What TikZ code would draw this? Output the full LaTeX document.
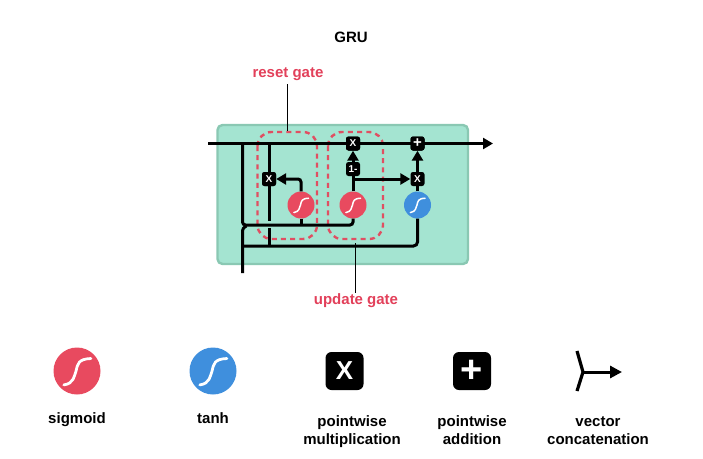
\documentclass[tikz,border=0pt]{standalone}
\usepackage{fontspec}
\setmainfont{Liberation Sans}
\usetikzlibrary{arrows.meta,calc}
\definecolor{tealbg}{HTML}{A4E4D1}
\definecolor{tealedge}{HTML}{8AC8B3}
\definecolor{redc}{HTML}{E84A5F}
\definecolor{redt}{HTML}{E2405A}
\definecolor{dashc}{HTML}{E04F62}
\definecolor{bluec}{HTML}{3F8FDD}
\newcommand{\scurve}[2]{\draw[white,line cap=round,line width=#2*0.115pt]
  ($(#1)+(-.55*#2,.58*#2)$) .. controls ($(#1)+(-.12*#2,.52*#2)$) and ($(#1)+(-.12*#2,.2*#2)$) .. ($(#1)+(-.04*#2,0)$)
  .. controls ($(#1)+(.03*#2,-.3*#2)$) and ($(#1)+(.05*#2,-.5*#2)$) .. ($(#1)+(.58*#2,-.52*#2)$);}
\tikzset{
  x=1pt,y=-1pt,
  wire/.style={line width=3pt,black},
  arrowwire/.style={wire,-{Triangle[length=10pt,width=11pt]}},
  callout/.style={line width=1.3pt,black},
  gatebox/.style={draw=dashc,line width=2.4pt,dash pattern=on 5pt off 4.2pt,rounded corners=14pt},
  opbox/.style={fill=black,rounded corners=2.5pt,text=white,minimum size=14pt,inner sep=0pt,font=\bfseries\fontsize{10}{10}\selectfont},
  bigbox/.style={fill=black,rounded corners=6pt,text=white,minimum size=38pt,inner sep=0pt,font=\bfseries\fontsize{26}{26}\selectfont},
  smallc/.style={circle,minimum size=27pt,inner sep=0pt},
  bigc/.style={circle,minimum size=47pt,inner sep=0pt},
  lbl/.style={font=\bfseries\fontsize{15}{18}\selectfont,align=center,text=black,inner sep=0pt},
  redlbl/.style={lbl,text=redt},
}
\begin{document}
\begin{tikzpicture}
\useasboundingbox (0,0) rectangle (703,458);
\node[lbl] (title) at (351,37.5) {GRU};
\node[redlbl] (resetl) at (288,74.5) {reset gate};
\node[redlbl] (updatel) at (356,300.5) {update gate};

\draw[fill=tealbg,draw=tealedge,line width=2.4pt,rounded corners=5pt] (217.5,125) rectangle (468,264);

\coordinate (resetTop) at (287.5,131);
\coordinate (updateBot) at (355.7,243);
\draw[gatebox] (257.5,132) rectangle (317,239);
\draw[gatebox] (328,132) rectangle (383,239);
\draw[callout] (resetl.south -| resetTop) ++(0,3) -- (resetTop);
\draw[callout] (updateBot) -- (updatel.north -| updateBot) ++(0,-2);

% operation nodes
\node[smallc,fill=redc] (s1) at (301,205) {};
\node[smallc,fill=redc] (s2) at (353,205) {};
\node[smallc,fill=bluec] (t1) at (417.5,205) {};
\node[opbox] (x1) at (269,179) {X};
\node[opbox] (x2) at (353,143.5) {X};
\node[opbox] (om) at (353,169) {1-};
\node[opbox] (x3) at (417.5,179) {X};
\node[opbox] (p1) at (417.5,143.5) {};

% free ends
\coordinate (inH) at (208,143.5);
\coordinate (outH) at (493,143.5);
\coordinate (inX) at (242.5,273);
\coordinate (j1) at (242.5,143.5);
\coordinate (j2) at (269,143.5);
\coordinate (bus1) at (242.5,225);
\coordinate (bus2) at (243,246);
\coordinate (xin) at (269,221);
\coordinate (xin2) at (269,228);
\coordinate (br) at (353,179);

\draw[wire] (j2) -- (xin);
\draw[wire] (xin2) -- (xin2 |- bus2);
\draw[wire,rounded corners=3pt] (j1) -- (bus1) -- (bus1 -| s2) -- (s2.south);
\draw[wire] (s1.south) -- (s1.south |- bus1);
\draw[wire,rounded corners=3pt] (inX) -- ($(bus1)+(0,3)$) -- ($(bus1)+(4,1)$);
\draw[wire,rounded corners=4pt] (bus2) -- (bus2 -| t1) -- (t1.south);
\draw[wire] (s2.north) -- (om.south);
\draw[wire] (t1.north) -- (x3.south);
\draw[arrowwire,rounded corners=3pt] (s1.north) |- (x1.east);
\draw[arrowwire] (br) -- (x3.west);
\draw[arrowwire] (om.north) -- (x2.south);
\draw[arrowwire] (x3.north) -- (p1.south);
\draw[arrowwire] (inH) -- (outH);

% redraw operators above the main line
\node[opbox] at (x2) {X};
\node[opbox] at (p1) {\raisebox{-.6pt}{\fontsize{15}{15}\selectfont+}};
\node[opbox] at (x1) {X};
\scurve{s1}{13}
\scurve{s2}{13}
\scurve{t1}{13}

% legend
\node[bigc,fill=redc] (ls) at (77,371) {};
\scurve{ls}{24}
\node[bigc,fill=bluec] (lt) at (213,371) {};
\scurve{lt}{24}
\node[bigbox] (lx) at (344.5,371) {X};
\node[bigbox] (lp) at (472,371) {\raisebox{-2pt}{\fontsize{38}{38}\selectfont+}};
\coordinate (cj) at (583,372);
\coordinate (ca) at (577,351);
\coordinate (cb) at (577,391);
\coordinate (cc) at (622,372);
\draw[line width=3.2pt,black,line join=round] (ca) -- (cj) -- (cb);
\draw[line width=3pt,black,-{Triangle[length=12pt,width=12pt]}] (cj) -- (cc);

\node[lbl] (t1l) at (77,420) {sigmoid};
\node[lbl] (t2l) at (213,418) {tanh};
\node[lbl] (t3l) at (352,432) {pointwise\\multiplication};
\node[lbl] (t4l) at (472,430) {pointwise\\addition};
\node[lbl] (t5l) at (598,430.5) {vector\\concatenation};
\end{tikzpicture}
\end{document}
